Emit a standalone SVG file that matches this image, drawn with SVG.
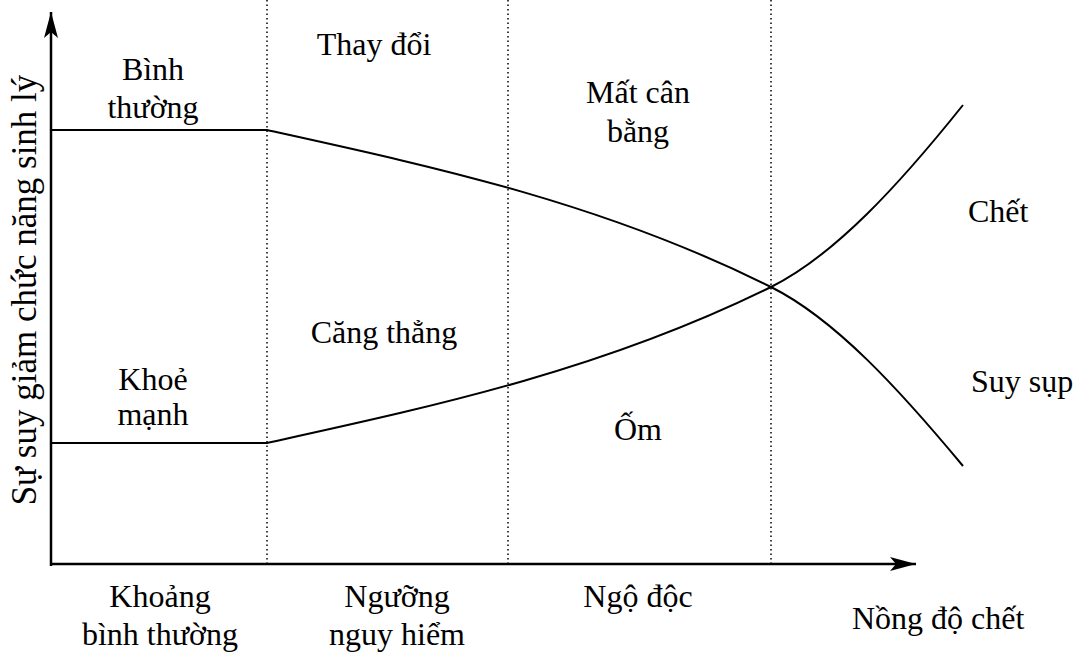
<svg xmlns="http://www.w3.org/2000/svg" width="1076" height="654" viewBox="0 0 1076 654">
<style>
text{font-family:"Liberation Serif","Times New Roman",serif;font-size:32px;fill:#000}
.c{text-anchor:middle}
.ax{stroke:#000;stroke-width:2.5;fill:none}
.cv{stroke:#000;stroke-width:2;fill:none}
.dt{stroke:#000;stroke-width:1.5;stroke-dasharray:1.5,3;fill:none}
</style>
<defs>
<marker id="arr" markerWidth="28" markerHeight="14" refX="26" refY="7" orient="auto" markerUnits="userSpaceOnUse">
<path d="M0,0 L26,7 L0,14 L6,7 Z" fill="#000"/>
</marker>
</defs>
<rect width="1076" height="654" fill="#fff"/>
<g id="connectors">
<line class="dt" x1="267" y1="0" x2="267" y2="565"/>
<line class="dt" x1="508" y1="0" x2="508" y2="565"/>
<line class="dt" x1="771" y1="0" x2="771" y2="565"/>
<line class="ax" x1="51" y1="566" x2="51" y2="12" marker-end="url(#arr)"/>
<line class="ax" x1="50" y1="564" x2="916" y2="564" marker-end="url(#arr)"/>
<path id="upper" class="cv" d="M51,130 L267,130 C435,167 603,203 771,287 C835,319 899,389 963,466"/>
<path id="lower" class="cv" d="M51,443 L267,443 C435,406 603,370 771,287 C835,255 899,185 963,105"/>
</g>
<g id="ylabel"><text class="c" style="font-size:35px" transform="translate(36,290) rotate(-90)">Sự suy giảm chức năng sinh lý</text></g>
<g id="binh-thuong"><text class="c" x="153" y="80">Bình</text><text class="c" x="153" y="118">thường</text></g>
<g id="thay-doi"><text class="c" x="374" y="55">Thay đổi</text></g>
<g id="mat-can-bang"><text class="c" x="638" y="103">Mất cân</text><text class="c" x="638" y="142">bằng</text></g>
<g id="chet"><text x="968" y="222">Chết</text></g>
<g id="cang-thang"><text class="c" x="384" y="343">Căng thẳng</text></g>
<g id="khoe-manh"><text class="c" x="153" y="390">Khoẻ</text><text class="c" x="153" y="425">mạnh</text></g>
<g id="om"><text class="c" x="638" y="440">Ốm</text></g>
<g id="suy-sup"><text x="971" y="392">Suy sụp</text></g>
<g id="khoang"><text class="c" x="160" y="607">Khoảng</text><text class="c" x="160" y="645">bình thường</text></g>
<g id="nguong"><text class="c" x="397" y="607">Ngưỡng</text><text class="c" x="397" y="645">nguy hiểm</text></g>
<g id="ngo-doc"><text class="c" x="638" y="607">Ngộ độc</text></g>
<g id="nong-do"><text x="852" y="629">Nồng độ chết</text></g>
</svg>
